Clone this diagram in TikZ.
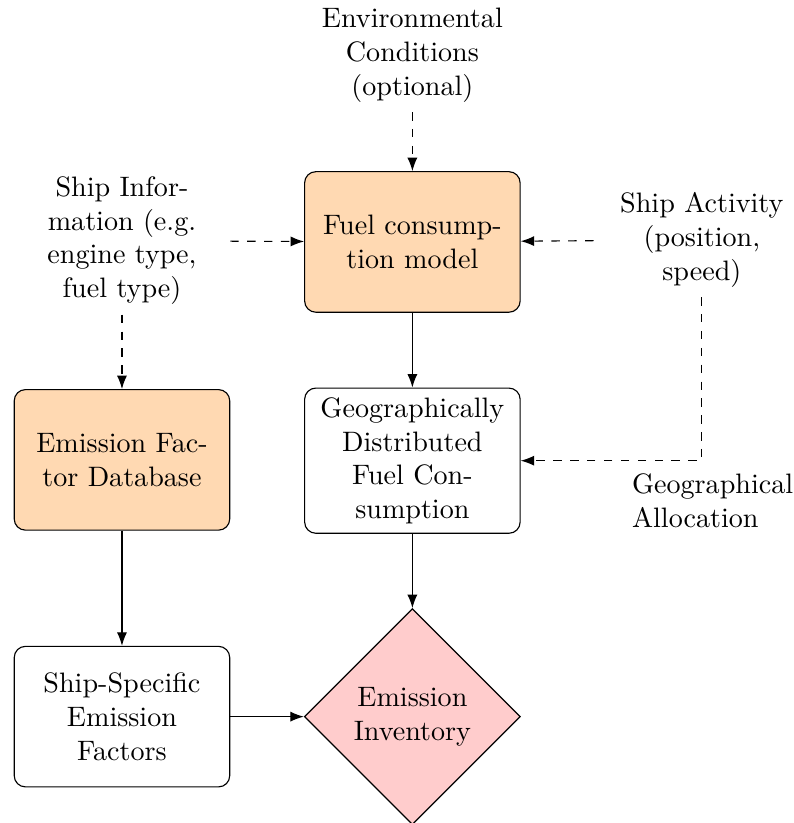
\documentclass[tikz,border=0pt]{standalone}
\usetikzlibrary{shapes.geometric,arrows.meta}

\begin{document}
\begin{tikzpicture}[
  every node/.style={font=\normalsize},
  block/.style={rectangle, draw, rounded corners, text width=7em, align=center, minimum height=5em},
  model/.style={block, fill=orange!30},
  result/.style={diamond, draw, fill=red!20, aspect=1, align=center, inner sep=0pt, minimum width=2.7cm, minimum height=2.7cm},
  info/.style={text width=7em, align=center},
  flow/.style={draw, -Latex},
  feed/.style={draw, dashed, -Latex},
]
\useasboundingbox (0,0) rectangle (9.925,-10.29);
% input texts
\node[info] (env) at (5.156,-0.69) {Environmental Conditions (optional)};
\node[info] (shipinfo) at (1.525,-3.01) {Ship Information (e.g. engine type, fuel type)};
\node[info] (activity) at (8.775,-3.0) {Ship Activity (position, speed)};
% blocks
\node[model] (fuel) at (5.156,-3.025) {Fuel consumption model};
\node[model] (efdb) at (1.525,-5.75) {Emission Factor Database};
\node[block] (geo) at (5.156,-5.76) {Geographically Distributed Fuel Consumption};
\node[block] (factors) at (1.525,-8.96) {Ship-Specific Emission Factors};
\node[result] (inventory) at (5.156,-8.96) {Emission\\Inventory};
% label of the allocation path
\node[align=left] (alloc) at (8.91,-6.26) {Geographical\\Allocation};
% dashed inputs
\path[feed] (env) -- (fuel);
\path[feed] (shipinfo) -- (fuel);
\path[feed] (activity) -- (fuel);
\path[feed] (shipinfo) -- (efdb);
\path[feed] (activity.south) |- (geo.east);
% solid flow
\path[flow] (fuel) -- (geo);
\path[flow] (efdb) -- (factors);
\path[flow] (geo) -- (inventory);
\path[flow] (factors) -- (inventory);
\end{tikzpicture}
\end{document}
